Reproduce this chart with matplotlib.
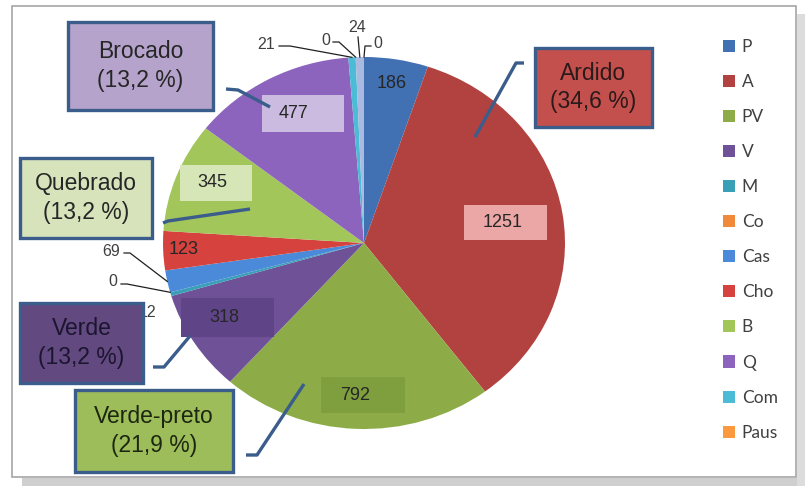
import matplotlib.pyplot as plt
from matplotlib.patches import Rectangle
import numpy as np

# slice names and counts, clockwise from 12 o'clock
names = ['P', 'A', 'PV', 'V', 'M', 'Co', 'Cas', 'Cho', 'B', 'Q', 'Com', 'Paus', '', '']
counts = [186, 1251, 792, 318, 12, 0, 69, 123, 345, 477, 21, 0, 24, 0]
colors = ['#4271b3', '#b2423f', '#8dac48', '#6e5196', '#3aa0b8', '#f08a3a',
          '#4a8ad8', '#d6433e', '#a3c65b', '#8c64bd', '#4bbbd6', '#f99a40',
          '#a9b9df', '#e0a0a0']

# callout boxes: text, fill, text colour
callout_text = ['Ardido\n(34,6 %)', 'Brocado\n(13,2 %)', 'Quebrado\n(13,2 %)',
                'Verde\n(13,2 %)', 'Verde-preto\n(21,9 %)']
callout_fill = ['#c4504d', '#b5a3cb', '#d6e3bb', '#62497f', '#9dbd5a']

W, H = 805, 486
cx, cy, rx, ry = 364, 243, 201, 186

fig = plt.figure(figsize=(W / 100, H / 100), dpi=100)
fig.patch.set_facecolor('white')


def px(x, y):
    # figure pixels -> pie data coords
    return (x - cx) / rx, (cy - y) / ry


ax = fig.add_axes([(cx - rx) / W, (H - cy - ry) / H, 2 * rx / W, 2 * ry / H])
wedges, _ = ax.pie(counts, colors=colors, startangle=90, counterclock=False,
                   wedgeprops=dict(linewidth=0, clip_on=False))
ax.set_aspect('auto')
ax.set_xlim(-1, 1)
ax.set_ylim(-1, 1)
ax.axis('off')

mids = [np.deg2rad((w.theta1 + w.theta2) / 2) for w in wedges]

# value labels inside the bigger slices: radius, angle shift (deg),
# label box (fill, width px, height px, x offset px)
inside = {0: (0.87, 0, None),
          1: (0.70, 0, ('#eaa7a6', 83, 35, 3)),
          2: (0.82, -0.7, ('#7f9f3f', 84, 36, 8)),
          3: (0.80, -2.5, ('#5f4587', 93, 39, 3)),
          7: (0.90, 0, None),
          8: (0.82, -2.4, ('#d7e6b6', 72, 36, 3)),
          9: (0.78, -1.4, ('#cbbbe0', 82, 37, 10))}
for i, (r, shift, box) in inside.items():
    a = mids[i] + np.deg2rad(shift)
    x, y = r * np.cos(a), r * np.sin(a)
    if box:
        fc, bw, bh, dx = box
        ax.add_patch(Rectangle((x + (dx - bw / 2) / rx, y - bh / 2 / ry),
                               bw / rx, bh / ry, fc=fc, ec='none'))
    ax.text(x, y, str(counts[i]), ha='center', va='center',
            fontsize=13, color='#262626', family='Liberation Sans')

# value labels for the thin slices, with leader lines to the rim
outside = {4: ((148, 312), None),
           5: ((113, 281), [(121, 284), (127, 284)]),
           6: ((111, 251), [(124, 253), (130, 253)]),
           10: ((266, 44), [(279, 46), (290, 46)]),
           11: ((326, 40), [(333, 42), (339, 42)]),
           12: ((357, 27), [(358, 37)]),
           13: ((378, 43), [(371, 46), (365, 46)])}
for i, ((tx, ty), pts) in outside.items():
    ax.text(*px(tx, ty), str(counts[i]), ha='center', va='center',
            fontsize=11.5, color='#404040', family='Liberation Sans')
    if pts:
        edge = (np.cos(mids[i]), np.sin(mids[i]))
        line = [px(*p) for p in pts] + [edge]
        ax.plot([p[0] for p in line], [p[1] for p in line], color='#202020',
                lw=0.9, clip_on=False)

# overlay in figure pixels for the callouts and the frame
ov = fig.add_axes([0, 0, 1, 1])
ov.set_xlim(0, W)
ov.set_ylim(H, 0)
ov.axis('off')
ov.patch.set_alpha(0)

ov.add_patch(Rectangle((22, 478), W - 22, 8, fc='#cfcfcf', ec='none'))
ov.add_patch(Rectangle((797, 14), 8, 472, fc='#dcdcdc', ec='none'))
ov.add_patch(Rectangle((12, 6), 784, 471, fc='none', ec='#a6a6a6', lw=1.2))

boxes = [(535, 48, 117, 79), (68, 22, 145, 88), (20, 158, 132, 80),
         (20, 303, 123, 80), (75, 390, 158, 82)]
leaders = [[(524, 63), (516, 63), (475, 137)],
           [(226, 89), (238, 90), (270, 107)],
           [(163, 223), (168, 221), (250, 209)],
           [(153, 367), (164, 367), (190, 336)],
           [(246, 455), (257, 455), (304, 384)]]
text_col = ['#2b1a1a', '#262626', '#262626', '#1c1530', '#1c2610']
for (bx, by, bw, bh), txt, fc, tc, ln in zip(boxes, callout_text, callout_fill,
                                              text_col, leaders):
    ov.add_patch(Rectangle((bx, by), bw, bh, fc=fc, ec='#3b5d8c', lw=2.4))
    ov.text(bx + bw / 2, by + bh / 2, txt, ha='center', va='center',
            fontsize=16.5, color=tc, family='Liberation Sans', linespacing=1.3)
    ov.plot([p[0] for p in ln], [p[1] for p in ln], color='#3b5d8c', lw=2.4,
            solid_capstyle='butt')

fig.legend(wedges[:12], names[:12], loc='upper left',
           bbox_to_anchor=(714 / W, 1 - 30 / H), frameon=False,
           prop=dict(family='Lato', size=12.5), labelcolor='#404040',
           handlelength=0.7, handleheight=0.7, handletextpad=0.4,
           labelspacing=1.1, borderpad=0)

fig.savefig('out.png', dpi=100)
